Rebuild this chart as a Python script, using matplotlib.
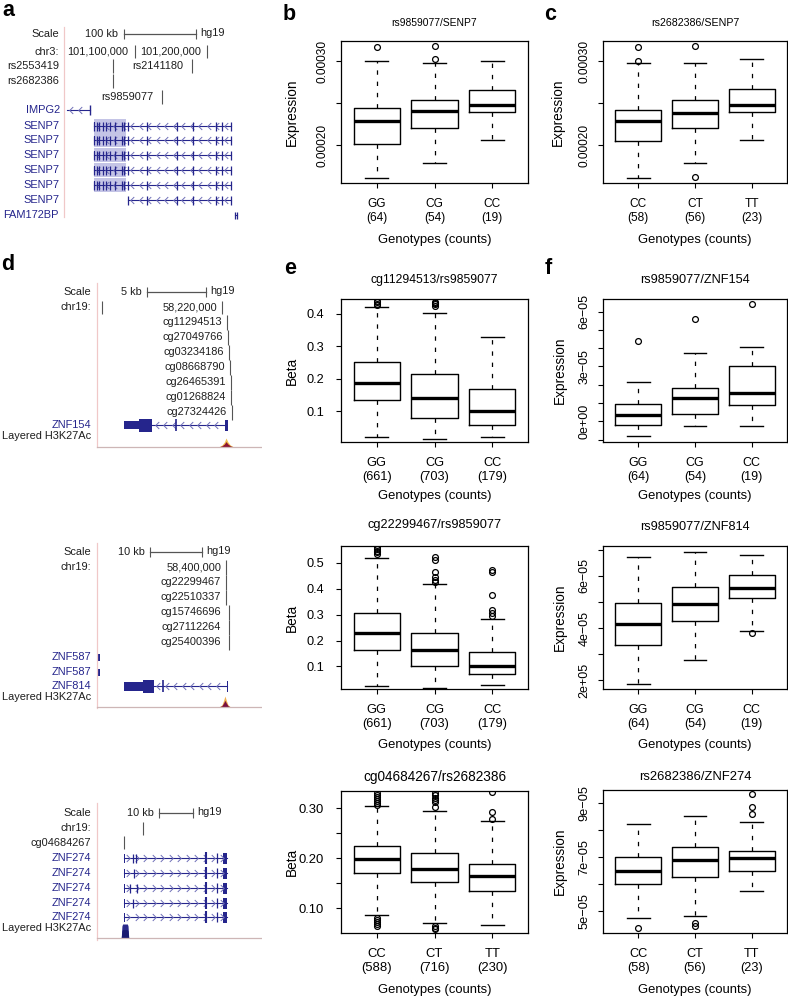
import matplotlib
matplotlib.use('Agg')
import matplotlib.pyplot as plt
from matplotlib.path import Path
from matplotlib.transforms import blended_transform_factory
import numpy as np

plt.rcParams['font.family'] = ['Liberation Sans', 'DejaVu Sans']
plt.rcParams['axes.linewidth'] = 0.9

W, H = 788, 999

# ================= boxplot data =================
geno_cg = ['GG', 'CG', 'CC']
geno_ct = ['CC', 'CT', 'TT']
cnt_expr_cg = [64, 54, 19]
cnt_expr_ct = [58, 56, 23]
cnt_meth_cg = [661, 703, 179]
cnt_meth_ct = [588, 716, 230]

# b  rs9859077/SENP7
b_lo = [0.000161, 0.000179, 0.000206]
b_q1 = [0.000201, 0.000221, 0.000239]
b_med = [0.000229, 0.000241, 0.000248]
b_q3 = [0.000244, 0.000254, 0.000266]
b_hi = [0.000300, 0.000298, 0.000300]
b_out = [[0.000317], [0.000318, 0.000303], []]

# c  rs2682386/SENP7
c_lo = [0.000161, 0.000179, 0.000206]
c_q1 = [0.000205, 0.000221, 0.000239]
c_med = [0.000229, 0.000238, 0.000248]
c_q3 = [0.000242, 0.000254, 0.000267]
c_hi = [0.000298, 0.000298, 0.000303]
c_out = [[0.000317, 0.000300], [0.000318, 0.000162], []]

# e (top)  cg11294513/rs9859077
e1_lo = [0.022, 0.016, 0.021]
e1_q1 = [0.135, 0.081, 0.057]
e1_med = [0.188, 0.140, 0.101]
e1_q3 = [0.251, 0.214, 0.170]
e1_hi = [0.4215, 0.403, 0.328]
e1_out = [[0.428, 0.432, 0.436, 0.440], [0.426, 0.430, 0.434, 0.438], []]

# e (middle)  cg22299467/rs9859077
e2_lo = [0.026, 0.017, 0.027]
e2_q1 = [0.164, 0.103, 0.071]
e2_med = [0.230, 0.164, 0.100]
e2_q3 = [0.308, 0.229, 0.155]
e2_hi = [0.520, 0.418, 0.282]
e2_out = [[0.533, 0.540, 0.547, 0.554, 0.560],
          [0.427, 0.433, 0.446, 0.465, 0.510, 0.523],
          [0.295, 0.308, 0.318, 0.376, 0.465, 0.472]]

# e (bottom)  cg04684267/rs2682386
e3_lo = [0.087, 0.071, 0.066]
e3_q1 = [0.170, 0.152, 0.134]
e3_med = [0.199, 0.179, 0.165]
e3_q3 = [0.225, 0.210, 0.189]
e3_hi = [0.304, 0.294, 0.274]
e3_out = [[0.307, 0.311, 0.315, 0.319, 0.323, 0.327, 0.331, 0.064, 0.068, 0.072, 0.076, 0.081],
          [0.302, 0.313, 0.317, 0.321, 0.327, 0.331, 0.058, 0.061, 0.064],
          [0.279, 0.292, 0.332]]

# f (top)  rs9859077/ZNF154
f1_lo = [-0.78e-05, -0.24e-05, -0.24e-05]
f1_q1 = [-0.18e-05, 0.42e-05, 0.87e-05]
f1_med = [0.33e-05, 1.25e-05, 1.53e-05]
f1_q3 = [0.93e-05, 1.80e-05, 3.04e-05]
f1_hi = [2.13e-05, 3.73e-05, 4.09e-05]
f1_out = [[4.40e-05], [5.58e-05], [6.42e-05]]

# f (middle)  rs9859077/ZNF814
f2_lo = [1.87e-05, 2.79e-05, 3.90e-05]
f2_q1 = [3.35e-05, 4.28e-05, 5.16e-05]
f2_med = [4.17e-05, 4.93e-05, 5.54e-05]
f2_q3 = [4.97e-05, 5.58e-05, 6.04e-05]
f2_hi = [6.72e-05, 6.92e-05, 6.81e-05]
f2_out = [[], [], [3.80e-05]]

# f (bottom)  rs2682386/ZNF274
f3_lo = [4.75e-05, 4.80e-05, 5.74e-05]
f3_q1 = [6.01e-05, 6.25e-05, 6.48e-05]
f3_med = [6.47e-05, 6.90e-05, 6.95e-05]
f3_q3 = [7.00e-05, 7.35e-05, 7.21e-05]
f3_hi = [8.21e-05, 8.52e-05, 8.28e-05]
f3_out = [[4.38e-05], [4.57e-05, 4.44e-05], [8.60e-05, 8.86e-05, 9.31e-05]]

# ================= genome browser data (kb from a reference base) =================
# a: chr3, reference 101,100,000
a_chr_ticks = [0, 100]
a_chr_labels = ['101,100,000', '101,200,000']
a_scale = (-15.3, 100)
a_snps = ['rs2553419', 'rs2682386', 'rs2141180', 'rs9859077']
a_snp_kb = [-30.6, -30.6, 79.2, 37.5]
a_impg2 = (-94.4, -62.5)
a_impg2_exons = [-62.5]
a_senp7_start = [-56.9, -56.9, -56.9, -56.9, -56.9, -9.7]
a_senp7_end = 133.3
a_senp7_exons = [-56.9, -52.8, -50.0, -44.4, -40.3, -34.7, -27.8, -18.1, -15.3,
                 -9.7, 16.7, 58.3, 80.6, 112.5, 120.8, 133.3]
a_fam172bp = 140.3

# d (top): chr19, reference 58,220,000
d1_chr_ticks = [-10.2, 0]
d1_chr_labels = ['', '58,220,000']
d1_scale = (-6.36, 5)
d1_cpg = ['cg11294513', 'cg27049766', 'cg03234186', 'cg08668790',
          'cg26465391', 'cg01268824', 'cg27324426']
d1_cpg_kb = [0.42, 0.51, 0.59, 0.68, 0.76, 0.76, 0.85]
d1_utr = (-8.3, -7.0)
d1_cds = (-7.0, -5.9)
d1_intron = (-5.9, 0.3)
d1_exons = [-3.9]
d1_last = (0.25, 0.5)
d1_peak_kb = [-0.3, 0.0, 0.2, 0.34, 0.5, 0.7, 1.0]
d1_peak_h = [0, 2, 5, 9, 5, 2, 0]

# d (middle): chr19, reference 58,400,000
d2_chr_ticks = [0]
d2_chr_labels = ['58,400,000']
d2_scale = (-14.6, 10)
d2_cpg = ['cg22299467', 'cg22510337', 'cg15746696', 'cg27112264', 'cg25400396']
d2_cpg_kb = [0.0, 0.0, 0.58, 0.58, 0.58]
d2_znf587 = (-24.8, -24.2)
d2_utr = (-19.6, -16.0)
d2_cds = (-16.0, -13.8)
d2_intron = (-13.8, 0.2)
d2_exons = [-12.1]
d2_last = (0.1, 0.3)
d2_peak_kb = [-1.4, -0.8, -0.5, -0.2, 0.1, 0.4, 0.9]
d2_peak_h = [0, 2, 6, 11, 6, 2, 0]

# d (bottom): chr19, reference at the chromosome tick
d3_chr_ticks = [0]
d3_scale = (4.7, 10)
d3_cpg = ['cg04684267']
d3_cpg_kb = [-5.6]
d3_span = (-5.6, 24.7)
d3_first = (-5.7, -5.2)
d3_small_exons = [[-2.9, -2.1], [-2.6], [-3.8, -1.8], [-2.9], []]
d3_exons = [18.5, 21.8]
d3_last = (23.5, 24.7)
d3_peak_kb = [-6.4, -6.2, -6.0, -4.6, -4.4, -4.2]
d3_peak_h = [0, 12, 14, 14, 12, 0]

fig = plt.figure(figsize=(W / 100, H / 100), dpi=100)


def px_axes(l, t, r, b):
    return fig.add_axes([l / W, 1 - b / H, (r - l) / W, (b - t) / H])


# ================= boxplots =================
def boxpanel(rect, title, title_y, tfs, kfs, groups, counts, lo, q1, med, q3, hi, out,
             ylim, yticks, yticklabels, rot, ylabel, ylab_x, xlab_y):
    ax = px_axes(*rect)
    stats = [dict(whislo=a, q1=b, med=c, q3=d, whishi=e, fliers=f)
             for a, b, c, d, e, f in zip(lo, q1, med, q3, hi, out)]
    ax.bxp(stats, positions=[1, 2, 3], widths=0.8, capwidths=0.4,
           boxprops=dict(color='black', lw=1.0),
           medianprops=dict(color='black', lw=2.4, solid_capstyle='butt'),
           whiskerprops=dict(color='black', lw=0.9, ls=(0, (3.5, 5.5))),
           capprops=dict(color='black', lw=1.0),
           flierprops=dict(marker='o', mfc='none', mec='black', ms=4.2, mew=0.9))
    ax.set_xlim(0.38, 3.62)
    ax.set_ylim(*ylim)
    ax.set_xticks([1, 2, 3])
    ax.set_xticklabels([f'{g}\n({n})' for g, n in zip(groups, counts)],
                       fontsize=kfs, linespacing=1.2)
    ax.set_yticks(yticks)
    if rot:
        ax.set_yticklabels(yticklabels, fontsize=kfs, rotation=90, va='center')
        ax.tick_params(axis='y', pad=5)
    else:
        ax.set_yticklabels(yticklabels, fontsize=kfs)
        ax.tick_params(axis='y', pad=8.5)
    ax.tick_params(direction='out', length=3.8, width=0.8, color='black')
    ax.tick_params(axis='x', pad=7)
    ax.set_ylabel(ylabel, fontsize=9.8)
    ax.yaxis.label.set_va('center')
    ax.yaxis.set_label_coords(ylab_x, 0.5)
    ax.set_xlabel('Genotypes (counts)', fontsize=9.4)
    ax.xaxis.label.set_va('center')
    ax.xaxis.set_label_coords(0.5, xlab_y)
    h = rect[3] - rect[1]
    ax.text(0.5, 1 + (rect[1] - title_y) / h, title, transform=ax.transAxes,
            ha='center', va='center', fontsize=tfs)
    return ax


boxpanel((341, 41, 528, 183), 'rs9859077/SENP7', 23, 7.4, 8.6, geno_cg, cnt_expr_cg,
         b_lo, b_q1, b_med, b_q3, b_hi, b_out, (0.000155, 0.000324),
         [0.00020, 0.00025, 0.00030], ['0.00020', '', '0.00030'], True,
         'Expression', -0.262, -0.40)
boxpanel((603, 41, 787, 183), 'rs2682386/SENP7', 23, 7.7, 8.6, geno_ct, cnt_expr_ct,
         c_lo, c_q1, c_med, c_q3, c_hi, c_out, (0.000155, 0.000324),
         [0.00020, 0.00025, 0.00030], ['0.00020', '', '0.00030'], True,
         'Expression', -0.245, -0.40)
boxpanel((341, 299, 528, 442), 'cg11294513/rs9859077', 280, 8.8, 9.2, geno_cg, cnt_meth_cg,
         e1_lo, e1_q1, e1_med, e1_q3, e1_hi, e1_out, (0.006, 0.446),
         [0.1, 0.2, 0.3, 0.4], ['0.1', '0.2', '0.3', '0.4'], False,
         'Beta', -0.262, -0.378)
boxpanel((603, 299, 787, 442), 'rs9859077/ZNF154', 280, 9.2, 9.0, geno_cg, cnt_expr_cg,
         f1_lo, f1_q1, f1_med, f1_q3, f1_hi, f1_out, (-1.13e-05, 6.69e-05),
         [-1e-05, 0, 1e-05, 2e-05, 3e-05, 4e-05, 5e-05, 6e-05],
         ['', '0e+00', '', '', '3e\u221205', '', '', '6e\u221205'], True,
         'Expression', -0.234, -0.378)
boxpanel((341, 546, 528, 689), 'cg22299467/rs9859077', 525, 9.2, 9.2, geno_cg, cnt_meth_cg,
         e2_lo, e2_q1, e2_med, e2_q3, e2_hi, e2_out, (0.013, 0.565),
         [0.1, 0.2, 0.3, 0.4, 0.5], ['0.1', '0.2', '0.3', '0.4', '0.5'], False,
         'Beta', -0.262, -0.39)
boxpanel((603, 546, 787, 689), 'rs9859077/ZNF814', 527, 9.2, 9.0, geno_cg, cnt_expr_cg,
         f2_lo, f2_q1, f2_med, f2_q3, f2_hi, f2_out, (1.67e-05, 7.14e-05),
         [2e-05, 3e-05, 4e-05, 5e-05, 6e-05, 7e-05],
         ['2e+05', '', '4e\u221205', '', '6e\u221205', ''], True,
         'Expression', -0.234, -0.39)
boxpanel((341, 791, 528, 933), 'cg04684267/rs2682386', 777, 9.8, 9.4, geno_ct, cnt_meth_ct,
         e3_lo, e3_q1, e3_med, e3_q3, e3_hi, e3_out, (0.051, 0.334),
         [0.10, 0.15, 0.20, 0.25, 0.30], ['0.10', '', '0.20', '', '0.30'], False,
         'Beta', -0.262, -0.40)
boxpanel((603, 790, 787, 933), 'rs2682386/ZNF274', 777, 9.4, 9.2, geno_ct, cnt_expr_ct,
         f3_lo, f3_q1, f3_med, f3_q3, f3_hi, f3_out, (4.19e-05, 9.47e-05),
         [5e-05, 6e-05, 7e-05, 8e-05, 9e-05],
         ['5e\u221205', '', '7e\u221205', '', '9e\u221205'], True,
         'Expression', -0.234, -0.40)

# ================= genome browser panels =================
gene_blue = '#25258c'
chev_blue = '#7070b8'
txt = '#1e1e1e'
tick_grey = '#555555'
sep_pink = '#f0c8c8'
fs_gb = 7.9

CHEV_L = Path([(0.5, 1), (-0.5, 0), (0.5, -1)], [Path.MOVETO, Path.LINETO, Path.LINETO])
CHEV_R = Path([(-0.5, 1), (0.5, 0), (-0.5, -1)], [Path.MOVETO, Path.LINETO, Path.LINETO])


def browser(top, bottom, ref_px, ppk):
    ax = px_axes(0, top, 262, bottom)
    ax.set_xlim(-ref_px / ppk, (262 - ref_px) / ppk)
    ax.set_ylim(bottom, top)
    ax.axis('off')
    lt = blended_transform_factory(ax.transAxes, ax.transData)
    return ax, lt, ppk


def left_label(ax, lt, xf, y, s, color=txt):
    ax.text(xf, y, s, transform=lt, ha='right', va='center', fontsize=fs_gb, color=color)


def vtick(ax, x, y, h=14, color=tick_grey, lw=0.8):
    ax.plot([x, x], [y - h / 2, y + h / 2], color=color, lw=lw, solid_capstyle='butt')


def inline_label(ax, x, y, s, dx=-3.5):
    ax.annotate(s, (x, y), xytext=(dx, 0), textcoords='offset points',
                ha='right', va='center', fontsize=fs_gb, color=txt)


def scale_row(ax, y, start, length, label):
    ax.plot([start, start + length], [y, y], color=tick_grey, lw=0.9)
    vtick(ax, start, y, 10)
    vtick(ax, start + length, y, 10)
    inline_label(ax, start, y, label, dx=-4)
    ax.annotate('hg19', (start + length, y), xytext=(3, 1), textcoords='offset points',
                ha='left', va='center', fontsize=fs_gb, color=txt)


def intron(ax, x0, x1, y, ppk, strand):
    ax.plot([x0, x1], [y, y], color=gene_blue, lw=0.8)
    step = 8.5 / ppk
    xs = np.arange(x0 + step / 2, x1 - step / 3, step)
    ax.plot(xs, np.full(len(xs), y), ls='none', marker=CHEV_L if strand < 0 else CHEV_R,
            ms=5, mfc='none', mec=chev_blue, mew=0.7)


def block(ax, x0, x1, y, h, color=gene_blue):
    ax.broken_barh([(x0, x1 - x0)], (y - h / 2, h), facecolors=color, edgecolors='none')


def signal(ax, lt, y, kb, hts, colors):
    ax.plot([0.37, 1.0], [y, y], transform=lt, color='#cdb6b6', lw=0.9)
    kb = np.asarray(kb)
    hts = np.asarray(hts, dtype=float)
    ax.fill_between(kb, y, y - hts, color=colors[0], lw=0)
    ax.fill_between(kb, y, y - hts * 0.6, color=colors[1], lw=0)


# ---- panel a ----
ax, lt, ppk = browser(20, 232, 135, 0.72)
xl = 59 / 262
ax.plot([64 / 262] * 2, [27, 217], transform=lt, color=sep_pink, lw=0.9)
left_label(ax, lt, xl, 34, 'Scale')
scale_row(ax, 34, a_scale[0], a_scale[1], '100 kb')
left_label(ax, lt, xl, 52, 'chr3:')
for k, lab in zip(a_chr_ticks, a_chr_labels):
    vtick(ax, k, 51, 13)
    inline_label(ax, k, 52, lab, dx=-4.5)
snp_y = [66, 81, 66, 97]
snp_in_column = [True, True, False, False]
for name, k, y, col in zip(a_snps, a_snp_kb, snp_y, snp_in_column):
    vtick(ax, k, y, 14.5)
    if col:
        left_label(ax, lt, xl, y, name)
    else:
        inline_label(ax, k, y, name, dx=-6)
left_label(ax, lt, xl + 0.005, 110, 'IMPG2', gene_blue)
intron(ax, a_impg2[0], a_impg2[1], 110, ppk, -1)
for k in a_impg2_exons:
    vtick(ax, k, 110, 10, gene_blue, 1.0)
senp7_y = [126, 140, 155, 170, 185, 200]
for y, s in zip(senp7_y, a_senp7_start):
    left_label(ax, lt, xl, y, 'SENP7', gene_blue)
    intron(ax, s, a_senp7_end, y, ppk, -1)
    if s < a_senp7_exons[8]:
        block(ax, s, a_senp7_exons[8] + 3, y, 14, '#c4c4e6')
        block(ax, s, s + 1.2, y, 9)
    for k in a_senp7_exons:
        if k >= s:
            vtick(ax, k, y, 9, gene_blue, 0.9)
left_label(ax, lt, xl, 215, 'FAM172BP', gene_blue)
vtick(ax, a_fam172bp - 1.4, 215, 7, gene_blue, 0.9)
vtick(ax, a_fam172bp + 1.4, 215, 7, gene_blue, 0.9)
ax.plot([a_fam172bp - 1.4, a_fam172bp + 1.4], [215, 215], color=gene_blue, lw=0.8)

# ---- panel d (top) ----
xl = 91 / 262
ax, lt, ppk = browser(280, 455, 222, 11.8)
ax.plot([97 / 262] * 2, [283, 447], transform=lt, color=sep_pink, lw=0.9)
left_label(ax, lt, xl, 292, 'Scale')
scale_row(ax, 292, d1_scale[0], d1_scale[1], '5 kb')
left_label(ax, lt, xl, 307, 'chr19:')
for k, lab in zip(d1_chr_ticks, d1_chr_labels):
    vtick(ax, k, 307, 13)
    if lab:
        inline_label(ax, k, 307, lab)
for i, (name, k) in enumerate(zip(d1_cpg, d1_cpg_kb)):
    y = 322 + 15 * i
    vtick(ax, k, y, 15)
    inline_label(ax, k, y, name)
left_label(ax, lt, xl, 425, 'ZNF154', gene_blue)
intron(ax, d1_intron[0], d1_intron[1], 425, ppk, -1)
block(ax, d1_utr[0], d1_utr[1], 425, 8)
block(ax, d1_cds[0], d1_cds[1], 425, 13)
for k in d1_exons:
    vtick(ax, k, 425, 12, gene_blue, 1.2)
block(ax, d1_last[0], d1_last[1], 425, 11)
left_label(ax, lt, xl, 436, 'Layered H3K27Ac')
signal(ax, lt, 447, d1_peak_kb, d1_peak_h, ['#f0c050', '#8c1430'])

# ---- panel d (middle) ----
ax, lt, ppk = browser(538, 715, 226, 5.2)
ax.plot([97 / 262] * 2, [543, 708], transform=lt, color=sep_pink, lw=0.9)
left_label(ax, lt, xl, 552, 'Scale')
scale_row(ax, 552, d2_scale[0], d2_scale[1], '10 kb')
left_label(ax, lt, xl, 567, 'chr19:')
for k, lab in zip(d2_chr_ticks, d2_chr_labels):
    vtick(ax, k, 567, 15)
    inline_label(ax, k, 567, lab)
for i, (name, k) in enumerate(zip(d2_cpg, d2_cpg_kb)):
    y = 582 + 15 * i
    vtick(ax, k, y, 15)
    inline_label(ax, k - 0.58 * (k > 0), y, name)
for y in (657, 672):
    left_label(ax, lt, xl, y, 'ZNF587', gene_blue)
    block(ax, d2_znf587[0], d2_znf587[1], y, 7)
left_label(ax, lt, xl, 686, 'ZNF814', gene_blue)
intron(ax, d2_intron[0], d2_intron[1], 686, ppk, -1)
block(ax, d2_utr[0], d2_utr[1], 686, 9)
block(ax, d2_cds[0], d2_cds[1], 686, 13)
for k in d2_exons:
    vtick(ax, k, 686, 12, gene_blue, 1.2)
block(ax, d2_last[0], d2_last[1], 686, 11)
left_label(ax, lt, xl, 697, 'Layered H3K27Ac')
signal(ax, lt, 707, d2_peak_kb, d2_peak_h, ['#f0b050', '#7a1040'])

# ---- panel d (bottom) ----
ax, lt, ppk = browser(798, 950, 143, 3.4)
ax.plot([97 / 262] * 2, [803, 940], transform=lt, color=sep_pink, lw=0.9)
left_label(ax, lt, xl, 813, 'Scale')
scale_row(ax, 813, d3_scale[0], d3_scale[1], '10 kb')
left_label(ax, lt, xl, 828, 'chr19:')
for k in d3_chr_ticks:
    vtick(ax, k, 828, 13)
for name, k in zip(d3_cpg, d3_cpg_kb):
    left_label(ax, lt, xl, 843, name)
    vtick(ax, k, 842, 13)
znf274_y = [858, 873, 888, 903, 917]
for y, small in zip(znf274_y, d3_small_exons):
    left_label(ax, lt, xl, y, 'ZNF274', gene_blue)
    intron(ax, d3_span[0], d3_span[1], y, ppk, 1)
    block(ax, d3_first[0], d3_first[1], y, 9)
    for k in small:
        vtick(ax, k, y, 9, gene_blue, 0.9)
    vtick(ax, d3_exons[0], y, 12, gene_blue, 1.5)
    vtick(ax, d3_exons[1], y, 10, gene_blue, 0.9)
    block(ax, d3_last[0], d3_last[1], y, 11)
left_label(ax, lt, xl, 928, 'Layered H3K27Ac')
signal(ax, lt, 938, d3_peak_kb, d3_peak_h, ['#2a2a8c', '#1a1a70'])

# ================= panel letters =================
for s, x, y in [('a', 2, 11), ('b', 283, 15), ('c', 544, 14),
                ('d', 1, 265), ('e', 284, 268), ('f', 545, 268)]:
    fig.text(x / W, 1 - y / H, s, fontsize=15.5, fontweight='bold', ha='left', va='center')

fig.savefig('out.png', dpi=100)
